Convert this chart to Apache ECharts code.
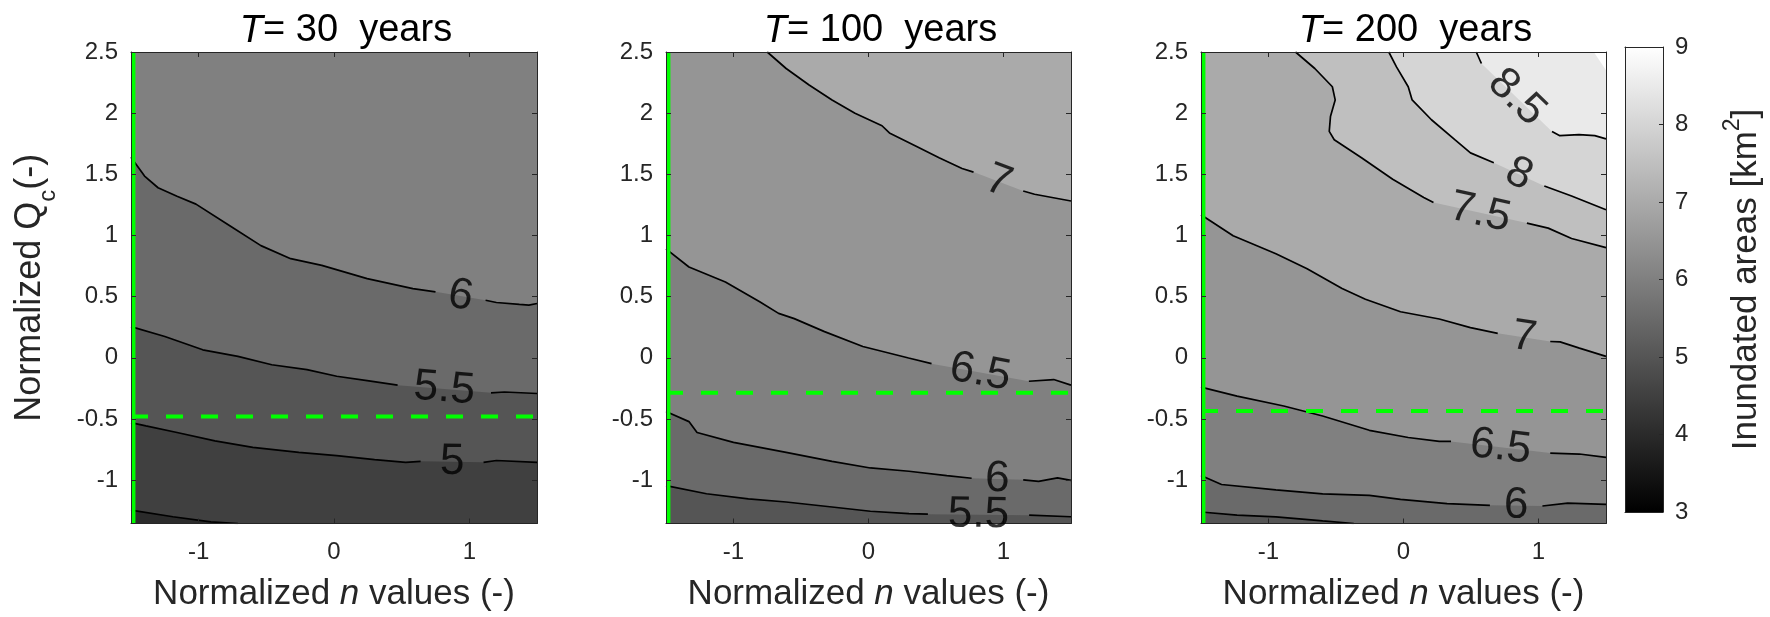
<!DOCTYPE html>
<html><head><meta charset="utf-8">
<script src="https://cdn.jsdelivr.net/npm/echarts@6/dist/echarts.min.js"></script>
<style>html,body{margin:0;padding:0;background:#fff}#c{width:1770px;height:617px}</style>
</head><body><div id="c"></div>
<script>
// ---------- data ----------
const xRange = [-1.5, 1.5];
const yRange = [-1.355, 2.5];
const xTicks = [-1, 0, 1];
const yTicks = [-1, -0.5, 0, 0.5, 1, 1.5, 2, 2.5];
const cbRange = [3, 9];
const cbTicks = [3, 4, 5, 6, 7, 8, 9];
const periods = ['30', '100', '200'];
const greenN = -1.482;                 // vertical reference (normalized n)
const greenQ = [-0.48, -0.287, -0.435]; // horizontal reference (normalized Qc)

// contour lines (null = gap where the label sits)
const t30_c45 = [[-1.5,-1.245],[-1.19,-1.30],[-0.91,-1.342],[-0.71,-1.355]];
const t30_c5  = [[-1.5,-0.53],[-1.39,-0.557],[-1.16,-0.611],[-0.88,-0.679],[-0.60,-0.733],[-0.26,-0.774],[0.02,-0.80],[0.30,-0.833],[0.53,-0.855],[0.64,-0.847],null,[1.105,-0.855],[1.20,-0.84],[1.5,-0.855]];
const t30_c55 = [[-1.5,0.255],[-1.25,0.174],[-0.97,0.065],[-0.71,0.011],[-0.46,-0.057],[-0.20,-0.097],[0.02,-0.151],[0.245,-0.187],[0.47,-0.224],null,[1.16,-0.287],[1.26,-0.28],[1.5,-0.292]];
const t30_c6  = [[-1.5,1.64],[-1.40,1.486],[-1.30,1.39],[-1.16,1.32],[-1.02,1.256],[-0.77,1.08],[-0.54,0.917],[-0.32,0.81],[-0.09,0.755],[0.245,0.647],[0.583,0.566],[0.75,0.539],null,[1.12,0.47],[1.20,0.452],[1.37,0.436],[1.44,0.43],[1.5,0.444]];

const t100_c55 = [[-1.5,-1.045],[-1.20,-1.112],[-0.89,-1.153],[-0.61,-1.179],[-0.27,-1.22],[0.014,-1.255],[0.30,-1.274],[0.44,-1.279],null,[1.19,-1.287],[1.5,-1.30]];
const t100_c6  = [[-1.5,-0.44],[-1.33,-0.522],[-1.27,-0.611],[-1.00,-0.692],[-0.61,-0.774],[-0.27,-0.847],[0.014,-0.901],[0.30,-0.928],[0.58,-0.963],[0.764,-0.985],null,[1.146,-0.998],[1.26,-1.01],[1.40,-0.982],[1.5,-1.003]];
const t100_c65 = [[-1.5,0.89],[-1.33,0.742],[-1.06,0.62],[-0.806,0.458],[-0.666,0.363],[-0.55,0.32],[-0.326,0.214],[-0.042,0.092],[0.297,-0.002],[0.467,-0.048],null,[1.188,-0.192],[1.372,-0.178],[1.5,-0.224]];
const t100_c7  = [[-0.75,2.5],[-0.61,2.365],[-0.44,2.23],[-0.27,2.108],[-0.10,2.0],[0.10,1.897],[0.155,1.838],[0.353,1.729],[0.523,1.635],[0.693,1.548],[0.778,1.518],null,[1.146,1.364],[1.23,1.337],[1.5,1.282]];

const t200_c55 = [[-1.5,-1.261],[-1.233,-1.287],[-0.945,-1.301],[-0.599,-1.334],[-0.368,-1.355]];
const t200_c6  = [[-1.5,-0.963],[-1.348,-1.036],[-0.945,-1.08],[-0.599,-1.112],[-0.253,-1.125],[-0.022,-1.158],[0.323,-1.193],[0.64,-1.206],null,[1.029,-1.212],[1.216,-1.188],[1.5,-1.198]];
const t200_c65 = [[-1.5,-0.24],[-1.233,-0.313],[-0.887,-0.394],[-0.599,-0.476],[-0.253,-0.593],[0.035,-0.652],[0.265,-0.684],[0.352,-0.684],null,[1.087,-0.779],[1.303,-0.787],[1.5,-0.814]];
const t200_c7  = [[-1.5,1.17],[-1.262,0.998],[-0.945,0.85],[-0.714,0.728],[-0.455,0.566],[-0.282,0.479],[-0.022,0.376],[0.265,0.317],[0.496,0.247],[0.698,0.20],null,[1.087,0.133],[1.16,0.13],[1.303,0.079],[1.5,0.011]];
const t200_c75 = [[-0.80,2.5],[-0.657,2.365],[-0.527,2.216],[-0.506,2.108],[-0.541,1.972],[-0.55,1.851],[-0.513,1.783],[-0.311,1.635],[-0.08,1.459],[0.15,1.31],[0.222,1.269],null,[0.914,1.101],[1.072,1.06],[1.245,0.975],[1.5,0.90]];
const t200_c8  = [[-0.109,2.5],[-0.052,2.378],[0.035,2.216],[0.064,2.108],[0.207,1.946],[0.38,1.783],[0.496,1.675],[0.669,1.594],null,[1.043,1.404],[1.245,1.323],[1.5,1.21]];
const t200_c85 = [[0.539,2.5],[0.577,2.406],null,[1.10,1.85],[1.158,1.816],[1.30,1.824],[1.417,1.816],[1.5,1.79]];
const t200_c9  = [[1.41,2.5],[1.5,2.35]];

// ---------- styling / layout ----------
const FONT = "'Liberation Sans', Arial, Helvetica, sans-serif";
const AX = '#262626';
const GREEN = '#00ff00';
const layout = [{left:131,width:406},{left:666,width:405},{left:1201,width:405}];
const TOP = 52, H = 475;
const CB = {left:1625, top:47, width:38, height:465};

function gray(v){
  const t = Math.round(Math.max(0, Math.min(1, (v - cbRange[0]) / (cbRange[1] - cbRange[0]))) * 255);
  return 'rgb(' + t + ',' + t + ',' + t + ')';
}

const panels = [
  {contours:[{level:4.5,pts:t30_c45,dir:'down'},{level:5,pts:t30_c5},{level:5.5,pts:t30_c55},{level:6,pts:t30_c6}]},
  {contours:[{level:5.5,pts:t100_c55},{level:6,pts:t100_c6},{level:6.5,pts:t100_c65},{level:7,pts:t100_c7}]},
  {contours:[{level:5.5,pts:t200_c55,dir:'down'},{level:6,pts:t200_c6},{level:6.5,pts:t200_c65},{level:7,pts:t200_c7},{level:7.5,pts:t200_c75},{level:8,pts:t200_c8},{level:8.5,pts:t200_c85},{level:9,pts:t200_c9,noLine:true}]}
];

const grids = [], xAxes = [], yAxes = [], series = [], titles = [], labs = [];

panels.forEach((p, i) => {
  const lowestUp = Math.min(...p.contours.filter(c => c.dir !== 'down').map(c => c.level));
  grids.push({left:layout[i].left, top:TOP, width:layout[i].width, height:H, show:true, backgroundColor:gray(lowestUp - 0.5), borderWidth:0});
  const common = {type:'value', gridIndex:i, min:xRange[0], max:xRange[1], z:10, splitLine:{show:false},
    axisLine:{show:true, onZero:false, lineStyle:{color:AX, width:1}}};
  xAxes.push(Object.assign({}, common, {position:'bottom',
    axisTick:{show:true, inside:true, length:5, customValues:xTicks, lineStyle:{color:AX}},
    axisLabel:{show:true, customValues:xTicks, fontSize:24, color:AX, margin:17, fontFamily:FONT},
    name:'{a|Normalized }{i|n}{a| values (-)}', nameLocation:'middle', nameGap:51,
    nameTextStyle:{rich:{a:{fontSize:35, color:AX, fontFamily:FONT, lineHeight:40}, i:{fontSize:35, color:AX, fontFamily:FONT, fontStyle:'italic', lineHeight:40}}}}));
  xAxes.push(Object.assign({}, common, {position:'top',
    axisTick:{show:true, inside:true, length:5, customValues:xTicks, lineStyle:{color:AX}},
    axisLabel:{show:false}}));
  const ycommon = {type:'value', gridIndex:i, min:yRange[0], max:yRange[1], z:10, splitLine:{show:false},
    axisLine:{show:true, onZero:false, lineStyle:{color:AX, width:1}}};
  const yl = Object.assign({}, ycommon, {position:'left',
    axisTick:{show:true, inside:true, length:5, customValues:yTicks, lineStyle:{color:AX}},
    axisLabel:{show:true, customValues:yTicks, fontSize:24, color:AX, margin:13, fontFamily:FONT}});
  if (i === 0) {
    Object.assign(yl, {name:'{a|Normalized Q}{s|c}{a|(-)}', nameLocation:'middle', nameGap:71, nameRotate:90,
      nameTextStyle:{rich:{a:{fontSize:36, color:AX, fontFamily:FONT, lineHeight:60}, s:{fontSize:24, color:AX, fontFamily:FONT, lineHeight:24, verticalAlign:'bottom'}}}});
  }
  yAxes.push(yl);
  yAxes.push(Object.assign({}, ycommon, {position:'right',
    axisTick:{show:true, inside:true, length:5, customValues:yTicks, lineStyle:{color:AX}},
    axisLabel:{show:false}}));

  const ax = {xAxisIndex:2*i, yAxisIndex:2*i};
  // filled regions
  const ordered = p.contours.filter(c => c.dir === 'down').concat(p.contours.filter(c => c.dir !== 'down').sort((a,b)=>a.level-b.level));
  ordered.forEach(c => {
    series.push(Object.assign({type:'line', data:c.pts.filter(q => q), symbol:'none', showSymbol:false, silent:true, z:1,
      lineStyle:{width:0, opacity:0},
      areaStyle:{color: c.dir === 'down' ? gray(c.level - 0.5) : gray(c.level), opacity:1, origin: c.dir === 'down' ? 'start' : 'end'}}, ax));
  });
  // contour strokes (split at label gaps)
  p.contours.forEach(c => {
    if (c.noLine) return;
    let seg = [];
    const flush = () => { if (seg.length > 1) series.push(Object.assign({type:'line', data:seg, symbol:'none', showSymbol:false, silent:true, z:2,
      lineStyle:{color:'#000', width:1.7}}, ax)); seg = []; };
    c.pts.forEach(q => { if (q === null) flush(); else seg.push(q); });
    flush();
  });
  // green reference lines
  series.push(Object.assign({type:'line', data:[[greenN, yRange[0]],[greenN, yRange[1]]], symbol:'none', silent:true, z:3,
    lineStyle:{color:GREEN, width:4}}, ax));
  series.push(Object.assign({type:'line', data:[[xRange[0], greenQ[i]],[xRange[1], greenQ[i]]], symbol:'none', silent:true, z:3,
    lineStyle:{color:GREEN, width:4, type:[17,18]}}, ax));
  // contour labels at gap centres
  const L = [];
  p.contours.forEach(c => {
    const k = c.pts.indexOf(null);
    if (k < 0) return;
    const a = c.pts[k-1], b = c.pts[k+1];
    L.push({a:a, b:b, mid:[(a[0]+b[0])/2, (a[1]+b[1])/2], text:String(c.level)});
  });
  labs.push(L);
  series.push(Object.assign({id:'lab'+i, type:'scatter', symbolSize:0, silent:true, z:20,
    data:L.map(l => ({value:l.mid, name:l.text})),
    label:{show:true, position:'inside', formatter:'{b}', fontSize:44, color:'#000', fontFamily:FONT}}, ax));

  titles.push({text:'{i|T}{a|= ' + periods[i] + '  years}', left:layout[i].left + layout[i].width/2 + 7, top:4, textAlign:'center',
    textStyle:{fontWeight:'normal', rich:{i:{fontSize:38, fontStyle:'italic', fontWeight:'normal', color:'#000', fontFamily:FONT, lineHeight:44}, a:{fontSize:38, fontWeight:'normal', color:'#000', fontFamily:FONT, lineHeight:44}}}});
});

// colorbar
grids.push({left:CB.left, top:CB.top, width:CB.width, height:CB.height});
const cbx = {type:'value', gridIndex:3, min:0, max:1, z:10, splitLine:{show:false}, axisTick:{show:false}, axisLabel:{show:false},
  axisLine:{show:true, onZero:false, lineStyle:{color:AX, width:1}}};
xAxes.push(Object.assign({}, cbx, {position:'bottom'}));
xAxes.push(Object.assign({}, cbx, {position:'top'}));
yAxes.push({type:'value', gridIndex:3, min:cbRange[0], max:cbRange[1], position:'left', z:10, splitLine:{show:false},
  axisTick:{show:false}, axisLabel:{show:false}, axisLine:{show:true, onZero:false, lineStyle:{color:AX, width:1}}});
yAxes.push({type:'value', gridIndex:3, min:cbRange[0], max:cbRange[1], position:'right', z:10, splitLine:{show:false},
  axisLine:{show:true, onZero:false, lineStyle:{color:AX, width:1}},
  axisTick:{show:true, inside:true, length:4, customValues:cbTicks, lineStyle:{color:AX}},
  axisLabel:{show:true, customValues:cbTicks, fontSize:24, color:AX, margin:12, fontFamily:FONT},
  name:'{a|Inundated areas [km}{p|2}{a|]}', nameLocation:'middle', nameRotate:90, nameGap:58,
  nameTextStyle:{rich:{a:{fontSize:35, color:AX, fontFamily:FONT, lineHeight:50}, p:{fontSize:23, color:AX, fontFamily:FONT, lineHeight:23, verticalAlign:'top'}}}});
series.push({type:'custom', xAxisIndex:6, yAxisIndex:6, silent:true, z:1,
  data:[[0, cbRange[0], 1, cbRange[1]]], encode:{x:[0,2], y:[1,3]},
  renderItem:function(params, api){
    const p0 = api.coord([api.value(0), api.value(3)]);
    const p1 = api.coord([api.value(2), api.value(1)]);
    return {type:'rect', shape:{x:p0[0], y:p0[1], width:p1[0]-p0[0], height:p1[1]-p0[1]},
      style:{fill:new echarts.graphic.LinearGradient(0,0,0,1,[{offset:0,color:gray(cbRange[1])},{offset:1,color:gray(cbRange[0])}])}};
  }});

const option = {animation:false, backgroundColor:'#fff', title:titles, grid:grids, xAxis:xAxes, yAxis:yAxes, series:series};
const chart = echarts.init(document.getElementById('c'), null, {renderer:'canvas'});
chart.setOption(option);

// rotate labels along the local contour direction
const upd = labs.map((L, i) => ({id:'lab'+i, data:L.map(l => {
  const pa = chart.convertToPixel({seriesId:'lab'+i}, l.a);
  const pb = chart.convertToPixel({seriesId:'lab'+i}, l.b);
  let ang = -Math.atan2(pb[1]-pa[1], pb[0]-pa[0]) * 180 / Math.PI;
  if (ang > 90) ang -= 180; if (ang < -90) ang += 180;
  return {value:l.mid, name:l.text, label:{rotate:ang}};
})}));
chart.setOption({series:upd});
</script>
</body></html>
